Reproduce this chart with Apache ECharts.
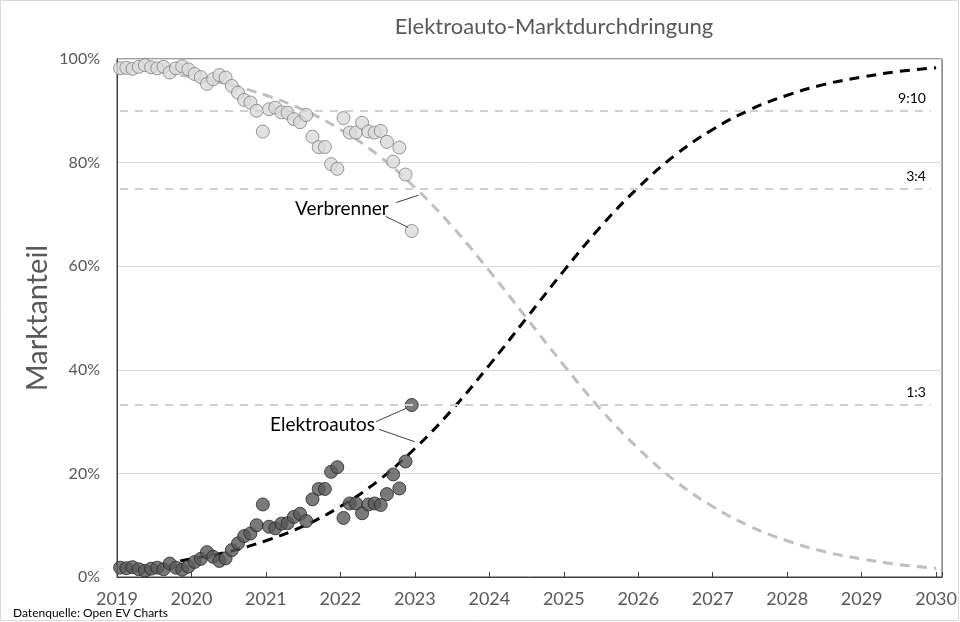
<!DOCTYPE html>
<html>
<head>
<meta charset="utf-8">
<script src="https://cdn.jsdelivr.net/npm/echarts/dist/echarts.min.js"></script>
<style>
  html, body { margin: 0; padding: 0; background: #fff; }
  #chart { width: 960px; height: 622px; }
</style>
</head>
<body>
<div id="chart"></div>
<script>
// Monate der Messpunkte
const months = [
  '2019-01','2019-02','2019-03','2019-04','2019-05','2019-06','2019-07','2019-08','2019-09','2019-10','2019-11','2019-12',
  '2020-01','2020-02','2020-03','2020-04','2020-05','2020-06','2020-07','2020-08','2020-09','2020-10','2020-11','2020-12',
  '2021-01','2021-02','2021-03','2021-04','2021-05','2021-06','2021-07','2021-08','2021-09','2021-10','2021-11','2021-12',
  '2022-01','2022-02','2022-03','2022-04','2022-05','2022-06','2022-07','2022-08','2022-09','2022-10','2022-11','2022-12'
];
// Marktanteil Elektroautos (%)
const evShare = [
  1.8, 1.7, 1.9, 1.5, 1.2, 1.6, 1.8, 1.5, 2.6, 1.8, 1.4, 2.0,
  2.9, 3.5, 4.8, 3.9, 3.1, 3.6, 5.2, 6.5, 7.9, 8.4, 10.0, 14.0,
  9.7, 9.4, 10.3, 10.4, 11.6, 12.2, 10.8, 15.0, 17.0, 17.0, 20.3, 21.2,
  11.4, 14.2, 14.2, 12.3, 14.0, 14.2, 13.9, 16.0, 19.8, 17.1, 22.3, 33.2
];
// Marktanteil Verbrenner (%)
const iceShare = [
  98.2, 98.3, 98.1, 98.5, 98.8, 98.4, 98.2, 98.5, 97.4, 98.2, 98.6, 98.0,
  97.1, 96.5, 95.2, 96.1, 96.9, 96.4, 94.8, 93.5, 92.1, 91.6, 90.0, 86.0,
  90.3, 90.6, 89.7, 89.6, 88.4, 87.8, 89.2, 85.0, 83.0, 83.0, 79.7, 78.8,
  88.6, 85.8, 85.8, 87.7, 86.0, 85.8, 86.1, 84.0, 80.2, 82.9, 77.7, 66.8
];
// Trendkurven
const curveYears = [2019.85, 2020, 2020.5, 2021, 2021.5, 2022, 2022.5, 2023, 2023.5, 2024, 2024.5,
  2025, 2025.5, 2026, 2026.5, 2027, 2027.5, 2028, 2028.5, 2029, 2029.5, 2030];
const evCurve = [3.1, 3.5, 4.9, 7.0, 9.8, 13.6, 18.5, 24.8, 32.3, 40.9, 50,
  59.1, 67.7, 75.2, 81.5, 86.4, 90.2, 93.0, 95.1, 96.5, 97.6, 98.3];
const iceCurve = [96.9, 96.5, 95.1, 93.0, 90.2, 86.4, 81.5, 75.2, 67.7, 59.1, 50,
  40.9, 32.3, 24.8, 18.5, 13.6, 9.8, 7.0, 4.9, 3.5, 2.4, 1.7];
// Schwellen
const refLevels = [90, 75, 33.3];
const refLabels = ['9:10', '3:4', '1:3'];
const yTicks = [0, 20, 40, 60, 80, 100];

const FONT = 'Lato';
const monthToYear = (m) => {
  const [y, mo] = m.split('-').map(Number);
  return y + (mo - 0.5) / 12;
};
const pair = (xs, ys) => xs.map((x, i) => [x, ys[i]]);
const monthYears = months.map(monthToYear);

const chart = echarts.init(document.getElementById('chart'));

const option = {
  animation: false,
  backgroundColor: '#fff',
  textStyle: { fontFamily: FONT },
  grid: {
    left: 117, right: 17, top: 59, bottom: 45,
    show: true, borderColor: '#404040', borderWidth: 1
  },
  xAxis: {
    type: 'value',
    min: 2019, max: 2030.08, interval: 1,
    axisLine: { show: true, lineStyle: { color: '#404040' } },
    axisTick: { show: true, inside: true, length: 5, lineStyle: { color: '#404040' } },
    axisLabel: {
      fontSize: 18, color: '#595959', margin: 13, fontFamily: FONT,
      formatter: (v) => Number.isInteger(v) ? String(v) : ''
    },
    splitLine: { show: false }
  },
  yAxis: {
    type: 'value',
    min: yTicks[0], max: yTicks[yTicks.length - 1], interval: 20,
    axisLine: { show: true, lineStyle: { color: '#404040' } },
    axisTick: { show: false },
    axisLabel: { fontSize: 16, color: '#595959', margin: 17, fontFamily: FONT, formatter: '{value}%' },
    splitLine: { show: true, lineStyle: { color: '#d9d9d9', width: 1 } }
  },
  series: [
    {
      name: 'Schwellen',
      type: 'line',
      data: [],
      silent: true,
      markLine: {
        silent: true,
        symbol: 'none',
        lineStyle: { color: '#d0d0d0', width: 2, type: [8, 7] },
        label: {
          show: true, position: 'insideEndTop', color: '#000', fontSize: 14,
          fontFamily: FONT, distance: 5, formatter: (p) => p.name
        },
        data: refLevels.map((v, i) => [
          { name: refLabels[i], coord: [2019.04, v] },
          { coord: [2029.93, v] }
        ])
      }
    },
    {
      name: 'Verbrenner Trend',
      type: 'line',
      data: pair(curveYears, iceCurve),
      smooth: 0.4,
      showSymbol: false,
      lineStyle: { color: '#bfbfbf', width: 3, type: [10, 7] },
      z: 2
    },
    {
      name: 'Elektroautos Trend',
      type: 'line',
      data: pair(curveYears, evCurve),
      smooth: 0.4,
      showSymbol: false,
      lineStyle: { color: '#000', width: 3, type: [10, 7] },
      z: 2
    },
    {
      name: 'Verbrenner',
      type: 'scatter',
      data: pair(monthYears, iceShare),
      symbolSize: 13,
      itemStyle: { color: '#d9d9d9', borderColor: '#7f7f7f', borderWidth: 1 },
      z: 3,
      markLine: {
        silent: true, symbol: 'none', label: { show: false },
        lineStyle: { color: '#404040', width: 1, type: 'solid' },
        data: [
          [{ coord: [2022.75, 72.3] }, { coord: [2023.05, 73.7] }],
          [{ coord: [2022.61, 69.6] }, { coord: [2022.91, 67.5] }]
        ]
      }
    },
    {
      name: 'Elektroautos',
      type: 'scatter',
      data: pair(monthYears, evShare),
      symbolSize: 13,
      itemStyle: { color: '#595959', borderColor: '#262626', borderWidth: 1 },
      z: 3,
      markLine: {
        silent: true, symbol: 'none', label: { show: false },
        lineStyle: { color: '#404040', width: 1, type: 'solid' },
        data: [
          [{ coord: [2022.48, 30.0] }, { coord: [2022.89, 32.6] }],
          [{ coord: [2022.52, 28.5] }, { coord: [2023.0, 26.1] }]
        ]
      }
    }
  ]
};
chart.setOption(option);

// Beschriftungen
const toPx = (p) => chart.convertToPixel({ gridIndex: 0 }, p);
const vPos = toPx([2022.02, 71.0]);
const ePos = toPx([2021.76, 29.3]);
chart.setOption({
  graphic: [
    {
      type: 'rect', silent: true, z: -1,
      shape: { x: 0.5, y: 0.5, width: 958, height: 620 },
      style: { fill: null, stroke: '#d9d9d9', lineWidth: 1 }
    },
    {
      type: 'text', x: 554, y: 27,
      style: { text: 'Elektroauto-Marktdurchdringung', font: '22px ' + FONT, fill: '#595959', textAlign: 'center', textVerticalAlign: 'middle' }
    },
    {
      type: 'text', x: 38, y: 318, rotation: Math.PI / 2,
      style: { text: 'Marktanteil', font: '29px ' + FONT, fill: '#595959', textAlign: 'center', textVerticalAlign: 'middle' }
    },
    {
      type: 'text', x: 13, y: 613,
      style: { text: 'Datenquelle: Open EV Charts', font: '12px ' + FONT, fill: '#000', textAlign: 'left', textVerticalAlign: 'middle' }
    },
    {
      type: 'text', x: vPos[0], y: vPos[1],
      style: { text: 'Verbrenner', font: '19px ' + FONT, fill: '#000', textAlign: 'center', textVerticalAlign: 'middle' }
    },
    {
      type: 'text', x: ePos[0], y: ePos[1],
      style: { text: 'Elektroautos', font: '19px ' + FONT, fill: '#000', textAlign: 'center', textVerticalAlign: 'middle' }
    }
  ]
});
</script>
</body>
</html>
